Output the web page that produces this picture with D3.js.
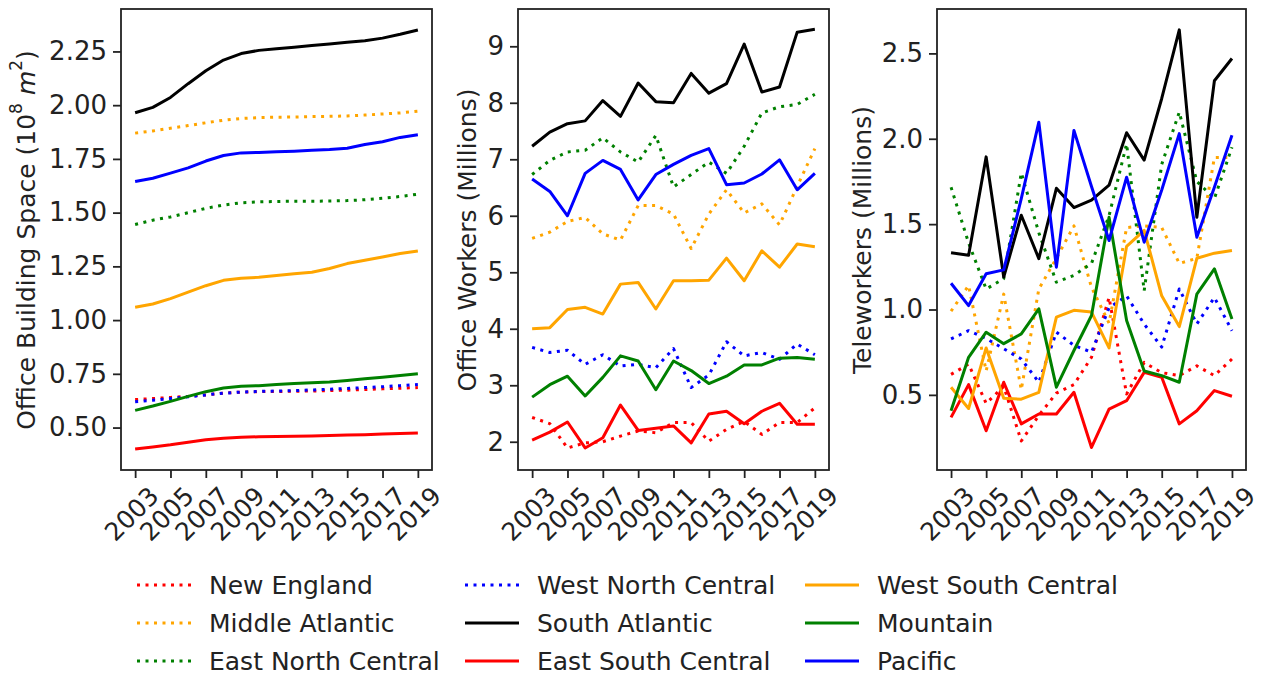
<!DOCTYPE html>
<html>
<head>
<meta charset="utf-8">
<script src="https://cdn.jsdelivr.net/npm/d3@7"></script>
<style>
  body { margin: 0; background: #fff; }
  svg { display: block; font-family: "DejaVu Sans", sans-serif; }
</style>
</head>
<body>
<script>
// ---- data ----
const years = [2003, 2004, 2005, 2006, 2007, 2008, 2009, 2010, 2011, 2012, 2013, 2014, 2015, 2016, 2017, 2018, 2019];
const yearTicks = [2003, 2005, 2007, 2009, 2011, 2013, 2015, 2017, 2019];
const regions = ["New England", "Middle Atlantic", "East North Central", "West North Central", "South Atlantic",
  "East South Central", "West South Central", "Mountain", "Pacific"];

// office building space, 10^8 m^2
const spaceNewEngland = [0.63, 0.635, 0.64, 0.645, 0.652, 0.66, 0.665, 0.667, 0.668, 0.669, 0.67, 0.672, 0.674, 0.677, 0.68, 0.683, 0.686];
const spaceMiddleAtlantic = [1.87, 1.88, 1.893, 1.905, 1.918, 1.93, 1.938, 1.942, 1.944, 1.945, 1.947, 1.948, 1.95, 1.954, 1.959, 1.964, 1.972];
const spaceEastNorthCentral = [1.445, 1.465, 1.48, 1.5, 1.52, 1.535, 1.546, 1.55, 1.552, 1.553, 1.553, 1.554, 1.556, 1.56, 1.567, 1.575, 1.586];
const spaceWestNorthCentral = [0.62, 0.627, 0.635, 0.643, 0.652, 0.66, 0.665, 0.668, 0.67, 0.672, 0.675, 0.678, 0.682, 0.686, 0.69, 0.695, 0.7];
const spaceSouthAtlantic = [1.965, 1.99, 2.036, 2.1, 2.16, 2.21, 2.24, 2.255, 2.263, 2.27, 2.278, 2.285, 2.293, 2.3, 2.312, 2.33, 2.35];
const spaceEastSouthCentral = [0.4, 0.41, 0.42, 0.432, 0.443, 0.45, 0.455, 0.457, 0.458, 0.459, 0.461, 0.463, 0.465, 0.467, 0.47, 0.472, 0.475];
const spaceWestSouthCentral = [1.06, 1.075, 1.1, 1.13, 1.16, 1.185, 1.195, 1.199, 1.208, 1.216, 1.223, 1.24, 1.263, 1.278, 1.294, 1.31, 1.322];
const spaceMountain = [0.58, 0.6, 0.622, 0.645, 0.667, 0.684, 0.692, 0.695, 0.7, 0.705, 0.708, 0.712, 0.719, 0.727, 0.734, 0.742, 0.75];
const spacePacific = [1.645, 1.66, 1.684, 1.708, 1.74, 1.766, 1.778, 1.78, 1.783, 1.786, 1.79, 1.794, 1.8, 1.817, 1.83, 1.85, 1.862];

// office workers, millions
const workersNewEngland = [2.43, 2.32, 1.89, 1.98, 2.0, 2.1, 2.19, 2.16, 2.34, 2.34, 2.01, 2.22, 2.36, 2.13, 2.34, 2.34, 2.6];
const workersMiddleAtlantic = [5.6, 5.71, 5.9, 5.97, 5.68, 5.57, 6.18, 6.18, 6.03, 5.42, 6.03, 6.46, 6.05, 6.21, 5.84, 6.52, 7.19];
const workersEastNorthCentral = [6.73, 6.98, 7.13, 7.16, 7.38, 7.13, 6.95, 7.42, 6.51, 6.73, 6.95, 6.75, 7.23, 7.82, 7.93, 7.97, 8.15];
const workersWestNorthCentral = [3.67, 3.58, 3.62, 3.37, 3.54, 3.34, 3.37, 3.31, 3.65, 2.96, 3.18, 3.77, 3.52, 3.58, 3.46, 3.73, 3.54];
const workersSouthAtlantic = [7.23, 7.48, 7.63, 7.68, 8.04, 7.76, 8.35, 8.02, 8.0, 8.52, 8.17, 8.34, 9.04, 8.19, 8.28, 9.25, 9.3];
const workersEastSouthCentral = [2.03, 2.17, 2.35, 1.89, 2.07, 2.65, 2.2, 2.24, 2.28, 1.98, 2.49, 2.54, 2.32, 2.54, 2.68, 2.31, 2.31];
const workersWestSouthCentral = [4.0, 4.02, 4.34, 4.38, 4.26, 4.79, 4.82, 4.35, 4.85, 4.85, 4.86, 5.25, 4.85, 5.38, 5.09, 5.5, 5.45];
const workersMountain = [2.79, 3.01, 3.16, 2.81, 3.14, 3.52, 3.43, 2.92, 3.43, 3.26, 3.03, 3.16, 3.36, 3.36, 3.48, 3.49, 3.46];
const workersPacific = [6.65, 6.43, 6.0, 6.75, 6.98, 6.82, 6.28, 6.73, 6.91, 7.07, 7.19, 6.55, 6.58, 6.74, 6.99, 6.46, 6.75];

// teleworkers, millions
const teleNewEngland = [0.62, 0.68, 0.45, 0.55, 0.23, 0.38, 0.51, 0.56, 0.72, 1.07, 0.505, 0.69, 0.63, 0.613, 0.67, 0.613, 0.71];
const teleMiddleAtlantic = [0.99, 1.14, 0.64, 1.09, 0.53, 1.12, 1.3, 1.49, 1.13, 0.92, 1.48, 1.49, 1.48, 1.27, 1.3, 1.89, 1.89];
const teleEastNorthCentral = [1.716, 1.39, 1.12, 1.18, 1.8, 1.45, 1.16, 1.2, 1.27, 1.55, 1.97, 1.11, 1.85, 2.156, 1.75, 1.65, 1.95];
const teleWestNorthCentral = [0.828, 0.876, 0.83, 0.77, 0.71, 0.574, 0.867, 0.79, 0.75, 1.01, 1.08, 0.915, 0.78, 1.12, 0.915, 1.07, 0.876];
const teleSouthAtlantic = [1.333, 1.318, 1.894, 1.19, 1.552, 1.298, 1.71, 1.597, 1.64, 1.728, 2.035, 1.875, 2.236, 2.638, 1.54, 2.34, 2.47];
const teleEastSouthCentral = [0.368, 0.56, 0.29, 0.574, 0.33, 0.388, 0.388, 0.515, 0.192, 0.417, 0.466, 0.632, 0.603, 0.33, 0.407, 0.525, 0.492];
const teleWestSouthCentral = [0.545, 0.42, 0.775, 0.48, 0.475, 0.515, 0.955, 0.995, 0.985, 0.775, 1.37, 1.464, 1.08, 0.9, 1.3, 1.33, 1.346];
const teleMountain = [0.407, 0.72, 0.867, 0.8, 0.857, 1.004, 0.545, 0.76, 0.965, 1.54, 0.935, 0.64, 0.613, 0.574, 1.09, 1.238, 0.945];
const telePacific = [1.154, 1.023, 1.209, 1.232, 1.65, 2.097, 1.248, 2.049, 1.72, 1.404, 1.775, 1.394, 1.7, 2.03, 1.423, 1.716, 2.02];

const spaceTicks = [0.5, 0.75, 1.0, 1.25, 1.5, 1.75, 2.0, 2.25];
const workersTicks = [2, 3, 4, 5, 6, 7, 8, 9];
const teleTicks = [0.5, 1.0, 1.5, 2.0, 2.5];

// ---- styles ----
const regionColor = ["red", "orange", "green", "blue", "black", "red", "orange", "green", "blue"];
const regionDotted = [true, true, true, true, false, false, false, false, false];

const W = 1261, H = 677;
const plotTop = 9, plotBottom = 470;
const lineW = 3;
const dots = "3,5.5";

const svg = d3.select("body").append("svg").attr("width", W).attr("height", H);

const panels = [
  { left: 121, right: 432, domain: [0.3025, 2.4475], ticks: spaceTicks, fmt: d3.format(".2f"), labelX: 26,
    series: [spaceNewEngland, spaceMiddleAtlantic, spaceEastNorthCentral, spaceWestNorthCentral, spaceSouthAtlantic,
      spaceEastSouthCentral, spaceWestSouthCentral, spaceMountain, spacePacific] },
  { left: 518, right: 829, domain: [1.5, 9.66], ticks: workersTicks, fmt: d3.format("d"), labelX: 467,
    label: "Office Workers (Millions)",
    series: [workersNewEngland, workersMiddleAtlantic, workersEastNorthCentral, workersWestNorthCentral, workersSouthAtlantic,
      workersEastSouthCentral, workersWestSouthCentral, workersMountain, workersPacific] },
  { left: 937, right: 1246, domain: [0.06, 2.76], ticks: teleTicks, fmt: d3.format(".1f"), labelX: 862,
    label: "Teleworkers (Millions)",
    series: [teleNewEngland, teleMiddleAtlantic, teleEastNorthCentral, teleWestNorthCentral, teleSouthAtlantic,
      teleEastSouthCentral, teleWestSouthCentral, teleMountain, telePacific] },
];

panels.forEach((p, pi) => {
  const x = d3.scaleLinear().domain([2002.2, 2019.8]).range([p.left, p.right]);
  const y = d3.scaleLinear().domain(p.domain).range([plotBottom, plotTop]);
  const g = svg.append("g");

  const clipId = "clip" + pi;
  g.append("clipPath").attr("id", clipId)
    .append("rect").attr("x", p.left).attr("y", plotTop).attr("width", p.right - p.left).attr("height", plotBottom - plotTop);

  const line = d3.line().x((d, i) => x(years[i])).y((d) => y(d));

  g.append("g").attr("clip-path", `url(#${clipId})`)
    .selectAll("path")
    .data(p.series)
    .join("path")
    .attr("d", line)
    .attr("fill", "none")
    .attr("stroke", (d, i) => regionColor[i])
    .attr("stroke-width", lineW)
    .attr("stroke-linejoin", "round")
    .attr("stroke-dasharray", (d, i) => (regionDotted[i] ? dots : null));

  // y axis
  const yAxis = g.append("g")
    .attr("transform", `translate(${p.left},0)`)
    .call(d3.axisLeft(y).tickValues(p.ticks).tickFormat(p.fmt).tickSize(8).tickPadding(6));
  yAxis.select(".domain").remove();
  yAxis.selectAll("line").attr("stroke", "#222").attr("stroke-width", 1.8);
  yAxis.selectAll("text").attr("font-size", 26).attr("fill", "#222").attr("font-family", "DejaVu Sans");

  // x axis
  const xAxis = g.append("g")
    .attr("transform", `translate(0,${plotBottom})`)
    .call(d3.axisBottom(x).tickValues(yearTicks).tickFormat(d3.format("d")).tickSize(8));
  xAxis.select(".domain").remove();
  xAxis.selectAll("line").attr("stroke", "#222").attr("stroke-width", 1.8);
  xAxis.selectAll("text")
    .attr("font-size", 25)
    .attr("fill", "#222")
    .attr("font-family", "DejaVu Sans")
    .attr("text-anchor", "middle")
    .attr("dy", null)
    .attr("y", null)
    .attr("dominant-baseline", "central")
    .attr("transform", "translate(-4,44) rotate(-45)");

  // frame
  g.append("rect")
    .attr("x", p.left).attr("y", plotTop)
    .attr("width", p.right - p.left).attr("height", plotBottom - plotTop)
    .attr("fill", "none").attr("stroke", "#222").attr("stroke-width", 1.8);

  // y label
  const lab = g.append("text")
    .attr("transform", `translate(${p.labelX},240) rotate(-90)`)
    .attr("text-anchor", "middle")
    .attr("dominant-baseline", "central")
    .attr("font-size", 25)
    .attr("fill", "#222");
  if (pi === 0) {
    lab.append("tspan").text("Office Building Space (10");
    lab.append("tspan").attr("font-size", 17).attr("dy", -10).text("8");
    lab.append("tspan").attr("dy", 10).text(" ");
    lab.append("tspan").attr("font-style", "italic").text("m");
    lab.append("tspan").attr("font-size", 17).attr("dy", -10).text("2");
    lab.append("tspan").attr("dy", 10).text(")");
  } else {
    lab.text(p.label);
  }
});

// legend, 3 columns filled column by column
const legendCols = [137, 465, 805];
const legendRows = [585, 623, 661];
const legend = svg.append("g")
  .selectAll("g")
  .data(regions)
  .join("g")
  .attr("transform", (d, i) => `translate(${legendCols[Math.floor(i / 3)]},${legendRows[i % 3]})`);

legend.append("line")
  .attr("x1", 0).attr("x2", 54)
  .attr("stroke", (d, i) => regionColor[i])
  .attr("stroke-width", lineW)
  .attr("stroke-dasharray", (d, i) => (regionDotted[i] ? dots : null));

legend.append("text")
  .attr("x", 72)
  .attr("dominant-baseline", "central")
  .attr("font-size", 25)
  .attr("fill", "#222")
  .text((d) => d);
</script>
</body>
</html>
